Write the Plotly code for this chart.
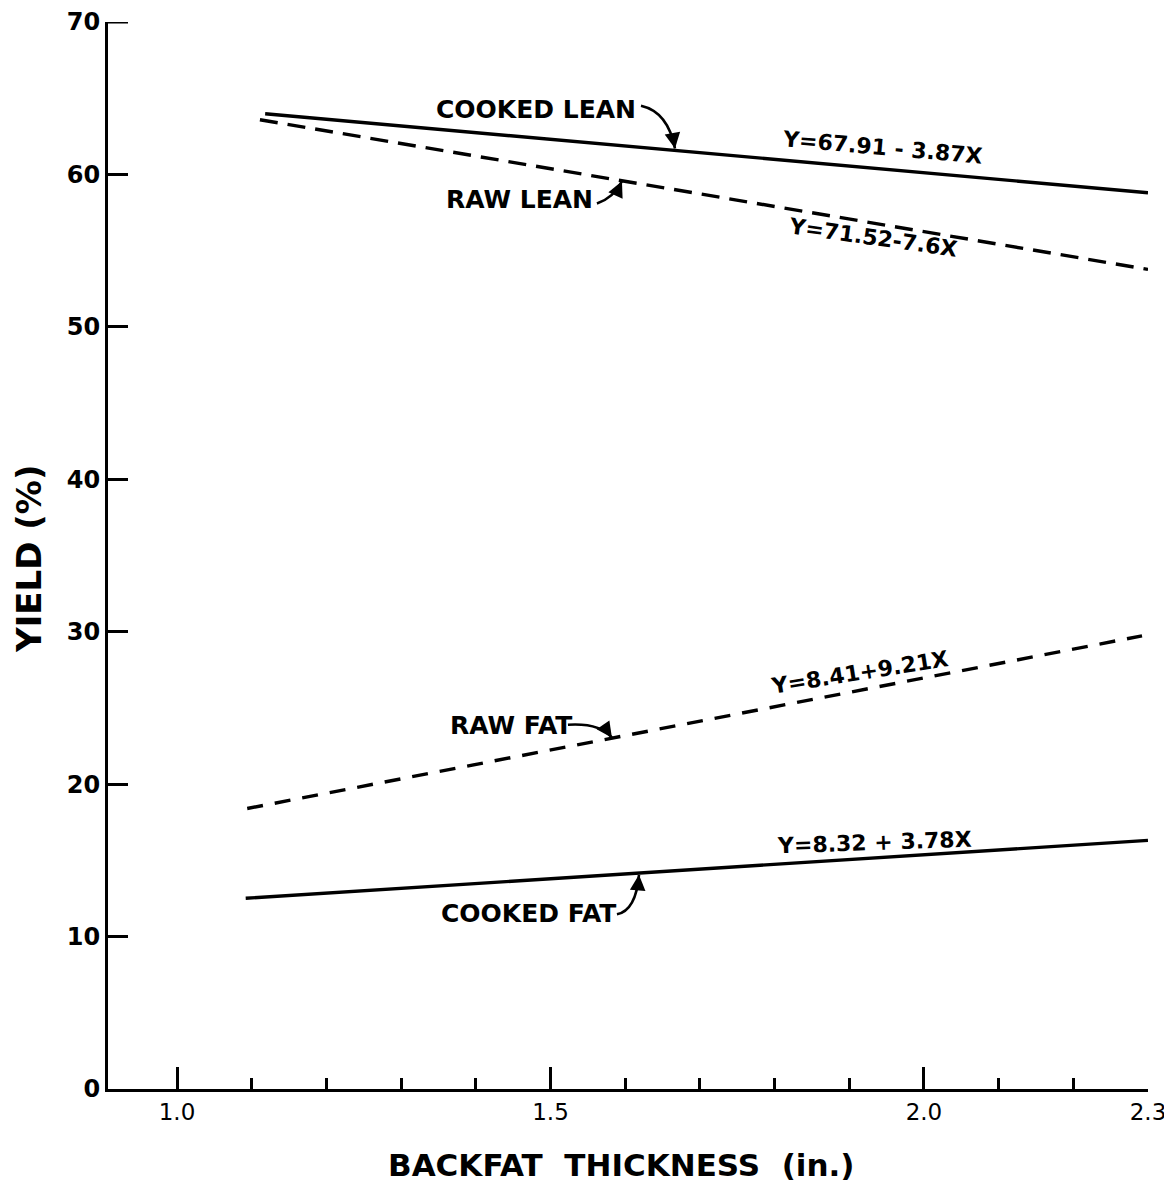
import plotly.graph_objects as go

# ---- data ----
cooked_lean_x = [1.118, 2.30]
cooked_lean_y = [63.98, 58.80]
raw_lean_x = [1.111, 2.30]
raw_lean_y = [63.59, 53.77]
raw_fat_x = [1.094, 2.292]
raw_fat_y = [18.40, 29.73]
cooked_fat_x = [1.092, 2.30]
cooked_fat_y = [12.51, 16.31]

x_tick_vals = [1.0, 1.5, 2.0, 2.3]
x_tick_text = ["1.0", "1.5", "2.0", "2.3"]
y_tick_vals = [0, 10, 20, 30, 40, 50, 60, 70]

FONT = "DejaVu Sans"
BLACK = "#000000"

fig = go.Figure()

def add_line(xs, ys, dash, name):
    fig.add_trace(go.Scatter(x=xs, y=ys, mode="lines", name=name,
                             line=dict(color=BLACK, width=3.4, dash=dash),
                             showlegend=False, hoverinfo="skip"))

add_line(cooked_lean_x, cooked_lean_y, "solid", "Cooked lean")
add_line(raw_lean_x, raw_lean_y, "18px,10px", "Raw lean")
add_line(raw_fat_x, raw_fat_y, "16px,12px", "Raw fat")
add_line(cooked_fat_x, cooked_fat_y, "solid", "Cooked fat")

annotations = []

def label(x, y, text, size=25, angle=0, weight="bold"):
    annotations.append(dict(x=x, y=y, xref="x", yref="y", text=text,
                            showarrow=False, textangle=angle,
                            font=dict(family=FONT, size=size, color=BLACK, weight=weight),
                            xanchor="center", yanchor="middle"))

label(1.4806, 64.24, "COOKED LEAN")
label(1.459, 58.35, "RAW LEAN")
label(1.447, 23.84, "RAW FAT")
label(1.470, 11.53, "COOKED FAT")

label(1.945, 61.76, "Y=67.91 - 3.87X", size=22, angle=5)
label(1.932, 55.86, "Y=71.52-7.6X", size=22, angle=8)
label(1.914, 27.31, "Y=8.41+9.21X", size=22, angle=-9)
label(1.934, 16.18, "Y=8.32 + 3.78X", size=22, angle=-2)

# curved pointer arrows: curve body as path shape + arrowhead annotation
shapes = []

def pointer(start, ctrl, tip, ax, ay):
    path = "M {},{} Q {},{} {},{}".format(start[0], start[1], ctrl[0], ctrl[1], tip[0], tip[1])
    shapes.append(dict(type="path", path=path, xref="x", yref="y",
                       line=dict(color=BLACK, width=2.6)))
    annotations.append(dict(x=tip[0], y=tip[1], xref="x", yref="y", text="",
                            showarrow=True, arrowhead=2, arrowsize=1.3,
                            arrowwidth=2.4, arrowcolor=BLACK,
                            ax=ax, ay=ay, standoff=0))

pointer((1.6212, 64.51), (1.6573, 64.11), (1.6667, 61.70), -2, -12)
pointer((1.5622, 58.09), (1.585, 58.48), (1.5957, 59.55), -5, 11)
pointer((1.5234, 23.90), (1.5663, 24.03), (1.5823, 23.05), -7, -10)
pointer((1.589, 11.46), (1.6145, 11.72), (1.6185, 14.05), -1, 12)

# top tick of the y axis (plotly drops the tick that sits on the range edge)
shapes.append(dict(type="line", xref="paper", yref="y", xsizemode="pixel",
                   xanchor=0, x0=0, x1=20, y0=y_tick_vals[-1], y1=y_tick_vals[-1],
                   line=dict(color=BLACK, width=3)))

# axis titles
annotations.append(dict(x=0.494, y=-0.0713, xref="paper", yref="paper",
                         text="BACKFAT  THICKNESS  (in.)", showarrow=False,
                         font=dict(family=FONT, size=31, color=BLACK, weight="bold"),
                         xanchor="center", yanchor="middle"))
annotations.append(dict(x=-0.0767, y=0.497, xref="paper", yref="paper",
                         text="YIELD (%)", showarrow=False, textangle=-90,
                         font=dict(family=FONT, size=34, color=BLACK, weight="bold"),
                         xanchor="center", yanchor="middle"))

# page body has an 8px margin; size/margins compensate for it
fig.update_layout(
    width=1164, height=1188,
    margin=dict(l=100, r=24, t=14, b=107),
    paper_bgcolor="white", plot_bgcolor="white",
    font=dict(family=FONT, color=BLACK),
    annotations=annotations, shapes=shapes,
    showlegend=False,
)

fig.update_xaxes(
    range=[0.9076, 2.30], showgrid=False, zeroline=False, automargin=False,
    showline=True, linecolor=BLACK, linewidth=3,
    tickmode="array", tickvals=x_tick_vals, ticktext=x_tick_text,
    ticks="inside", ticklen=22, tickwidth=3, tickcolor=BLACK,
    tickfont=dict(family=FONT, size=23, color=BLACK),
    minor=dict(ticks="inside", ticklen=11, tickwidth=3, tickcolor=BLACK,
               tick0=1.0, dtick=0.1, showgrid=False),
)
fig.update_yaxes(
    range=[0, 70.001], showgrid=False, zeroline=False, automargin=False,
    showline=True, linecolor=BLACK, linewidth=3,
    tickmode="array", tickvals=y_tick_vals,
    ticks="inside", ticklen=20, tickwidth=3, tickcolor=BLACK,
    ticklabeloverflow="allow",
    tickfont=dict(family=FONT, size=24, color=BLACK, weight="bold"),
)

fig.write_html("out.html")
